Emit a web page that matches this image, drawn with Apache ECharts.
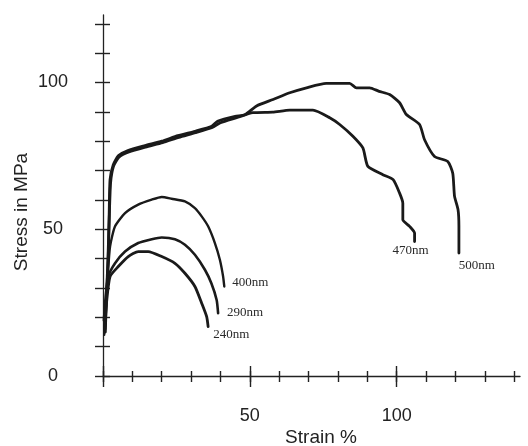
<!DOCTYPE html>
<html>
<head>
<meta charset="utf-8">
<script src="https://cdn.jsdelivr.net/npm/echarts@6/dist/echarts.min.js"></script>
<style>
  html, body { margin: 0; padding: 0; background: #fff; }
  #chart { width: 528px; height: 446px; }
</style>
</head>
<body>
<div id="chart"></div>
<script>
// Stress-strain curves for films of different grain size
const strain500 = [0.8, 1.2, 1.7, 2.1, 2.4, 3.5, 5.2, 8.5, 14.3, 20, 25.5, 31.3, 37, 39, 45, 48.3, 52.3, 57.9, 63.6, 69.3, 76, 84, 86.3, 90.8, 94, 97.6, 101, 103.3, 107.8, 109.5, 112.9, 117.4, 119.1, 119.7, 120.9, 121.2, 121.2];
const stress500 = [15, 28, 40, 55, 66.9, 72, 75, 76.8, 78.5, 80, 81.9, 83.4, 85.1, 86.8, 88.5, 89, 92, 94.2, 96.5, 98.2, 99.7, 99.7, 98.2, 98.2, 97, 95.9, 93.1, 89.1, 85.7, 80.5, 74.8, 73.1, 69.1, 61.3, 56.7, 51, 41.9];

const strain470 = [0.7, 1.3, 1.8, 2.2, 2.6, 3.6, 5.4, 8.8, 14.5, 20.3, 25.8, 31.5, 37.2, 40, 45.5, 51, 57.8, 63.6, 71.5, 77.2, 80.6, 85.1, 88.5, 90.2, 95.3, 98.8, 101, 102.1, 102.1, 104.4, 106.1, 106.1];
const stress470 = [16, 29, 41, 56, 66, 71.5, 74.5, 76.3, 78, 79.5, 81.3, 82.9, 84.7, 86.3, 88, 89.7, 89.9, 90.6, 90.6, 88, 85.7, 81.7, 77.7, 71.4, 68.6, 66.9, 62.3, 58.9, 53.2, 51, 48.7, 45.8];

const strain400 = [0.4, 1, 1.6, 2.4, 4.1, 7.5, 12, 16.6, 20, 23.4, 27.9, 31.3, 33.6, 35.8, 38.1, 39.8, 40.9, 41.3];
const stress400 = [14, 24, 34, 44.1, 51, 55.5, 58.4, 60.1, 61, 60.4, 59.5, 57.2, 54.4, 51, 45.3, 39.6, 33.9, 30.5];

const strain290 = [0.3, 0.9, 1.8, 4.1, 7.5, 12, 16.6, 20, 24.5, 27.9, 31.3, 34.7, 36.9, 38.7, 39.2];
const stress290 = [19, 27, 33.9, 38.4, 42.4, 45.3, 46.6, 47.2, 46.6, 44.7, 41.3, 36.2, 31.6, 25.9, 21.4];

const strain240 = [0.5, 1.2, 2.4, 5.2, 8.6, 12, 15.4, 20, 24.5, 27.9, 31.3, 33.6, 35.3, 35.8];
const stress240 = [16, 25, 33.9, 37.3, 40.7, 42.4, 42.4, 40.7, 38.4, 35, 30.5, 24.8, 20.2, 16.8];

const seriesNames = ['500nm', '470nm', '400nm', '290nm', '240nm'];

// Axis ticks and labels
const yTickValues = [0, 10, 20, 30, 40, 50, 60, 70, 80, 90, 100, 110, 120];
const yLabelValues = [0, 50, 100];
const xTickValues = [0, 10, 20, 30, 40, 50, 60, 70, 80, 90, 100, 110, 120, 130, 140];
const xMajorTickValues = [0, 50, 100];
const xLabelValues = [50, 100];
const xTitle = 'Strain %';
const yTitle = 'Stress in MPa';

const zip = (xs, ys) => xs.map((x, i) => [x, ys[i]]);
const curves = [
  zip(strain500, stress500),
  zip(strain470, stress470),
  zip(strain400, stress400),
  zip(strain290, stress290),
  zip(strain240, stress240)
];

const ink = '#1a1a1a';
const axisInk = '#222';
const X_MAX = 142, Y_MAX = 123;

function xAxisDef(opts) {
  return Object.assign({
    type: 'value', min: 0, max: X_MAX, position: 'bottom',
    splitLine: { show: false },
    axisLine: { show: false },
    axisTick: { show: false },
    axisLabel: { show: false }
  }, opts);
}
function yAxisDef(opts) {
  return Object.assign({
    type: 'value', min: 0, max: Y_MAX, position: 'left',
    splitLine: { show: false },
    axisLine: { show: false },
    axisTick: { show: false },
    axisLabel: { show: false }
  }, opts);
}

const tickStyle = { color: axisInk, width: 1.4 };

const chart = echarts.init(document.getElementById('chart'), null, { renderer: 'canvas' });

const lineWidths = [2.8, 2.8, 2.4, 2.6, 2.8];

chart.setOption({
  backgroundColor: '#fff',
  animation: false,
  grid: { left: 103, top: 15, width: 417, height: 361 },
  xAxis: [
    xAxisDef({
      axisLine: { show: true, lineStyle: { color: axisInk, width: 1.3 } },
      axisTick: { show: true, inside: false, length: 6, customValues: xTickValues, lineStyle: tickStyle },
      axisLabel: {
        show: true, customValues: xLabelValues, margin: 40, verticalAlign: 'middle',
        fontFamily: 'Liberation Sans', fontSize: 18, color: axisInk
      }
    }),
    xAxisDef({
      axisTick: { show: true, inside: true, length: 5, customValues: xTickValues, lineStyle: tickStyle }
    }),
    xAxisDef({
      axisTick: { show: true, inside: false, length: 11, customValues: xMajorTickValues, lineStyle: tickStyle }
    }),
    xAxisDef({
      axisTick: { show: true, inside: true, length: 10, customValues: xMajorTickValues, lineStyle: tickStyle }
    })
  ],
  yAxis: [
    yAxisDef({
      axisLine: { show: true, lineStyle: { color: axisInk, width: 1.3 } },
      axisTick: { show: true, inside: false, length: 8, customValues: yTickValues, lineStyle: tickStyle },
      axisLabel: {
        show: true, customValues: yLabelValues, margin: 50, align: 'center',
        fontFamily: 'Liberation Sans', fontSize: 18, color: axisInk
      }
    }),
    yAxisDef({
      axisTick: { show: true, inside: true, length: 7, customValues: yTickValues, lineStyle: tickStyle }
    })
  ],
  series: curves.map((data, i) => ({
    name: seriesNames[i],
    type: 'line',
    xAxisIndex: 0,
    yAxisIndex: 0,
    data: data,
    showSymbol: false,
    smooth: 0.2,
    lineStyle: { color: ink, width: lineWidths[i], cap: 'round', join: 'round' }
  }))
});

// Curve name labels, placed next to each curve's final point
const labelOffsets = {
  '500nm': { dx: 18, dy: 13, align: 'center' },
  '470nm': { dx: -4, dy: 9, align: 'center' },
  '400nm': { dx: 8, dy: -4, align: 'left' },
  '290nm': { dx: 9, dy: -1, align: 'left' },
  '240nm': { dx: 5, dy: 8, align: 'left' }
};

const graphics = curves.map((data, i) => {
  const name = seriesNames[i];
  const end = data[data.length - 1];
  const p = chart.convertToPixel({ xAxisIndex: 0, yAxisIndex: 0 }, end);
  const o = labelOffsets[name];
  return {
    type: 'text',
    x: p[0] + o.dx,
    y: p[1] + o.dy,
    style: {
      text: name, fill: '#2a2a2a',
      font: '13px "Liberation Serif"',
      textAlign: o.align, textVerticalAlign: 'middle'
    }
  };
});

graphics.push({
  type: 'text', x: 321, y: 438,
  style: { text: xTitle, fill: axisInk, font: '19px "Liberation Sans"', textAlign: 'center', textVerticalAlign: 'middle' }
});
graphics.push({
  type: 'text', x: 22, y: 212, rotation: Math.PI / 2,
  style: { text: yTitle, fill: axisInk, font: '19px "Liberation Sans"', textAlign: 'center', textVerticalAlign: 'middle' }
});

chart.setOption({ graphic: graphics });
</script>
</body>
</html>
